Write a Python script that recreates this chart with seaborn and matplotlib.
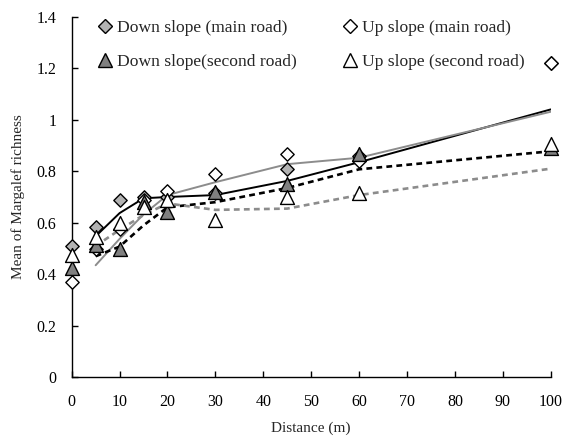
import numpy as np
import pandas as pd
import matplotlib
matplotlib.use("Agg")
import matplotlib.pyplot as plt
from matplotlib.lines import Line2D
import seaborn as sns

distance = [0, 5, 10, 15, 20, 30, 45, 60, 100]
down_main = [0.51, 0.585, 0.69, 0.70, 0.70, 0.715, 0.81, 0.86, 1.22]
up_main = [0.37, 0.50, 0.575, 0.69, 0.725, 0.79, 0.865, 0.84, 1.222]
down_second = [0.425, 0.515, 0.50, 0.68, 0.64, 0.72, 0.75, 0.865, 0.89]
up_second = [0.475, 0.545, 0.60, 0.66, 0.69, 0.61, 0.70, 0.715, 0.905]

labels = ["Down slope (main road)", "Up slope (main road)",
          "Down slope(second road)", "Up slope (second road)"]
x_ticks = [0, 10, 20, 30, 40, 50, 60, 70, 80, 90, 100]
y_ticks = [0, 0.2, 0.4, 0.6, 0.8, 1.0, 1.2, 1.4]
y_tick_labels = ["0", "0.2", "0.4", "0.6", "0.8", "1", "1.2", "1.4"]

sns.set_style("white")
plt.rcParams["font.family"] = ["Liberation Serif", "DejaVu Serif"]

fig = plt.figure(figsize=(5.65, 4.37), dpi=100)
ax = fig.add_axes([0.1269, 0.1366, 0.9747 - 0.1269, 0.9618 - 0.1366])

df = pd.DataFrame({"d": distance, "dm": down_main, "um": up_main,
                   "ds": down_second, "us": up_second})

# moving-average (period 2) trend lines
line_specs = [("dm", "black", "-", 1.4),
              ("um", "#8c8c8c", "-", 1.4),
              ("ds", "black", (0, (2.2, 1.6)), 1.9),
              ("us", "#8c8c8c", (0, (2.2, 1.6)), 1.9)]
for col, color, ls, lw in line_specs:
    ma = df[col].rolling(2).mean()
    sub = pd.DataFrame({"d": df["d"], "ma": ma}).dropna()
    sns.lineplot(data=sub, x="d", y="ma", ax=ax, color=color, linestyle=ls,
                 linewidth=lw, estimator=None, sort=False)

marker_specs = [("dm", "D", "#b2b2b2", 6.8),
                ("um", "D", "white", 6.8),
                ("ds", "^", "#808080", 10.0),
                ("us", "^", "white", 10.0)]
for col, mk, fc, ms in marker_specs:
    sns.scatterplot(data=df, x="d", y=col, ax=ax, marker=mk, s=ms ** 2,
                    color=fc, edgecolor="black", linewidth=1.0,
                    clip_on=False, zorder=5, legend=False)

ax.set_xlim(0, 100)
ax.set_ylim(0, 1.4)
ax.set_xticks(x_ticks)
ax.set_xticklabels([str(t) for t in x_ticks])
ax.set_yticks(y_ticks)
ax.set_yticklabels(y_tick_labels)
ax.tick_params(axis="both", direction="in", length=4, width=1, labelsize=11.5,
               colors="black")
ax.tick_params(axis="x", bottom=True, pad=12)
ax.tick_params(axis="y", left=True, pad=11)
for s in ["top", "right"]:
    ax.spines[s].set_visible(False)
for s in ["left", "bottom"]:
    ax.spines[s].set_color("black")
    ax.spines[s].set_linewidth(1.0)

ax.set_xlabel("Distance (m)", fontsize=11, labelpad=8)
ax.set_ylabel("Mean of Margalef richness", fontsize=11, labelpad=8)

handles = [Line2D([], [], linestyle="none", marker="D", markersize=6.8,
                  markerfacecolor="#b2b2b2", markeredgecolor="black"),
           Line2D([], [], linestyle="none", marker="D", markersize=6.8,
                  markerfacecolor="white", markeredgecolor="black"),
           Line2D([], [], linestyle="none", marker="^", markersize=10,
                  markerfacecolor="#808080", markeredgecolor="black"),
           Line2D([], [], linestyle="none", marker="^", markersize=10,
                  markerfacecolor="white", markeredgecolor="black")]
leg = fig.legend(handles=[handles[0], handles[2], handles[1], handles[3]],
                 labels=[labels[0], labels[2], labels[1], labels[3]],
                 ncol=2, loc="upper left", bbox_to_anchor=(0.146, 0.99),
                 frameon=False, fontsize=12.6, handlelength=0.8,
                 handletextpad=0.3, columnspacing=2.6, labelspacing=1.0)

fig.savefig("out.png", dpi=100)
